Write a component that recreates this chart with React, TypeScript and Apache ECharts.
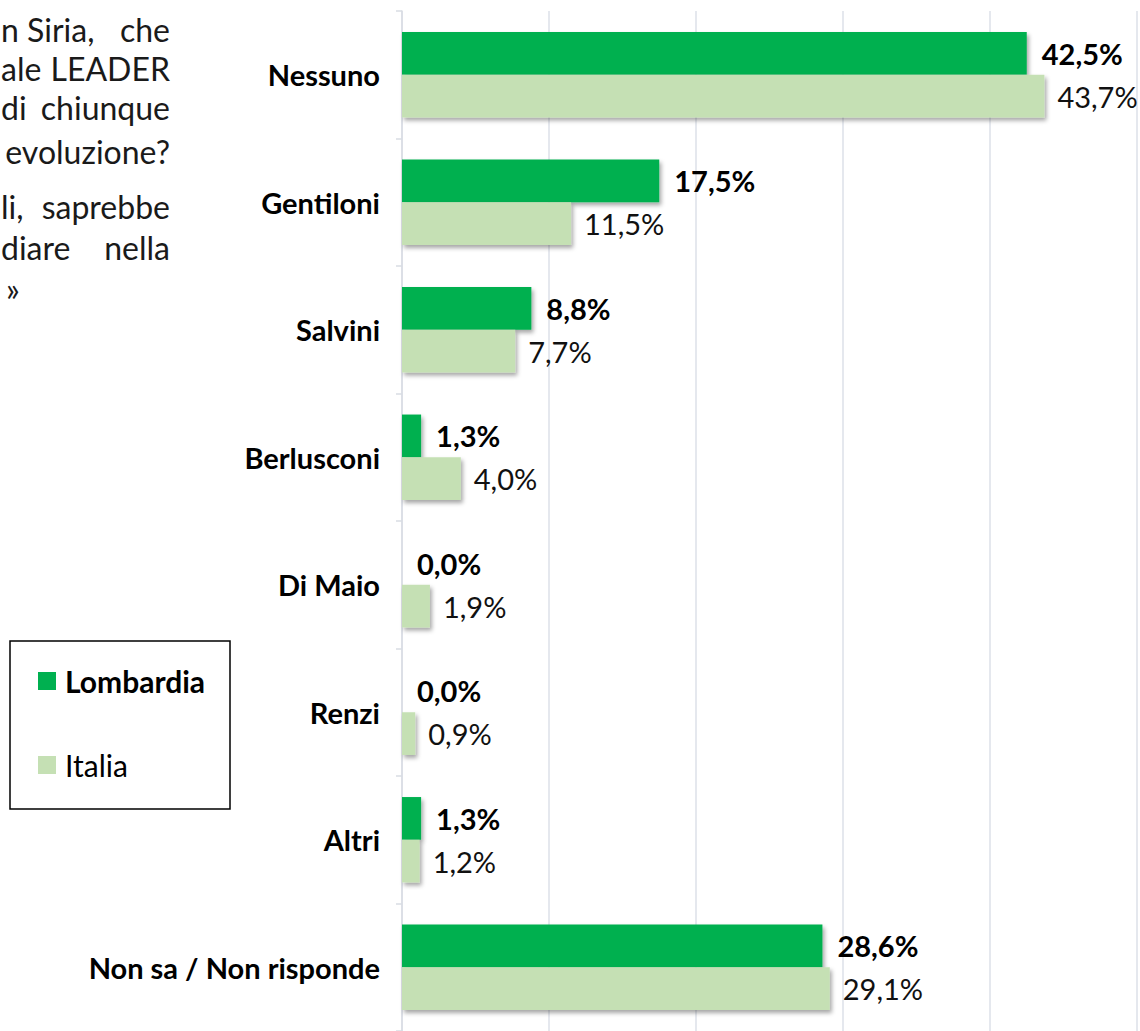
import React, { useEffect, useRef } from "react";
import * as echarts from "echarts";

const categories = ["Nessuno", "Gentiloni", "Salvini", "Berlusconi", "Di Maio", "Renzi", "Altri", "Non sa / Non risponde"];
const lombardia = [42.5, 17.5, 8.8, 1.3, 0.0, 0.0, 1.3, 28.6];
const italia = [43.7, 11.5, 7.7, 4.0, 1.9, 0.9, 1.2, 29.1];
const seriesNames = ["Lombardia", "Italia"];
const xTicks = { min: 0, max: 50, interval: 10 };
// justified question text at the top left: [left part, right part, line centre y]
const paragraphLines: [string, string, number][] = [
  ["n Siria,", "che", 29],
  ["ale", "LEADER", 68],
  ["di", "chiunque", 107],
  ["", "evoluzione?", 151],
  ["li,", "saprebbe", 206],
  ["diare", "nella", 247],
  ["»", "", 288],
];

const FONT = "Lato, 'Open Sans', sans-serif";
const fmt = (v: number) => v.toFixed(1).replace(".", ",") + "%";

export default function App() {
  const ref = useRef<HTMLDivElement>(null);
  useEffect(() => {
    if (!ref.current) return;
    const chart = echarts.init(ref.current, null, { renderer: "svg" });
    const shadow = {
      shadowBlur: 4,
      shadowOffsetX: 2,
      shadowOffsetY: 3,
      shadowColor: "rgba(0,0,0,0.35)",
    };
    const pStyle = {
      fontFamily: FONT,
      fontSize: 32,
      fontWeight: "normal",
      fill: "#1a1a1a",
      textVerticalAlign: "middle",
    };
    const paraGraphics: any[] = [];
    paragraphLines.forEach(([left, right, y]) => {
      if (left)
        paraGraphics.push({
          type: "text",
          x: left === "»" ? 6 : 1,
          y,
          style: { ...pStyle, text: left, textAlign: "left" },
        });
      if (right)
        paraGraphics.push({ type: "text", x: 170, y, style: { ...pStyle, text: right, textAlign: "right" } });
    });
    chart.setOption({
      animation: false,
      textStyle: { fontFamily: FONT },
      grid: { left: 402, right: 3, top: 11, bottom: 0, containLabel: false },
      xAxis: {
        type: "value",
        min: xTicks.min,
        max: xTicks.max,
        interval: xTicks.interval,
        axisLabel: { show: false },
        axisLine: { show: false },
        axisTick: { show: false },
        splitLine: { show: true, lineStyle: { color: "#DDE1E8", width: 1.5 } },
      },
      yAxis: {
        type: "category",
        data: categories,
        inverse: true,
        axisLine: { show: true, lineStyle: { color: "#D9DCE3", width: 1.5 } },
        axisTick: { show: true, length: 6, lineStyle: { color: "#D9DCE3", width: 1.5 } },
        axisLabel: {
          margin: 22,
          fontSize: 29,
          fontWeight: "bold",
          color: "#000",
          fontFamily: FONT,
        },
      },
      legend: {
        orient: "vertical",
        left: 38,
        top: 666,
        padding: 0,
        itemWidth: 18,
        itemHeight: 18,
        itemGap: 54,
        icon: "rect",
        data: seriesNames,
        formatter: (name: string) => (name === "Lombardia" ? "{b|" + name + "}" : "{n|" + name + "}"),
        textStyle: {
          fontFamily: FONT,
          padding: [0, 0, 0, 4],
          rich: {
            b: { fontSize: 30, lineHeight: 30, fontWeight: "bold", color: "#000", fontFamily: FONT },
            n: { fontSize: 30, lineHeight: 30, fontWeight: "normal", color: "#000", fontFamily: FONT },
          },
        },
      },
      graphic: [
        {
          type: "rect",
          shape: { x: 10, y: 641, width: 220, height: 168 },
          style: { fill: "none", stroke: "#000", lineWidth: 1.5 },
          z: 10,
        },
        ...paraGraphics,
      ],
      series: [
        {
          name: seriesNames[0],
          type: "bar",
          data: lombardia,
          barCategoryGap: "33%",
          barGap: "0%",
          itemStyle: { color: "#00B050", ...shadow },
          label: {
            show: true,
            position: "right",
            distance: 15,
            formatter: (p: any) => fmt(p.value),
            fontSize: 29,
            fontWeight: "bold",
            color: "#000",
            fontFamily: FONT,
          },
        },
        {
          name: seriesNames[1],
          type: "bar",
          data: italia,
          barCategoryGap: "33%",
          barGap: "0%",
          itemStyle: { color: "#C5E0B4", ...shadow },
          label: {
            show: true,
            position: "right",
            distance: 13,
            formatter: (p: any) => fmt(p.value),
            fontSize: 29,
            fontWeight: "normal",
            color: "#111",
            fontFamily: FONT,
          },
        },
      ],
    });
    return () => chart.dispose();
  }, []);
  return (
    <div
      ref={ref}
      style={{ position: "absolute", left: 0, top: 0, width: 1140, height: 1031, background: "#fff" }}
    />
  );
}
